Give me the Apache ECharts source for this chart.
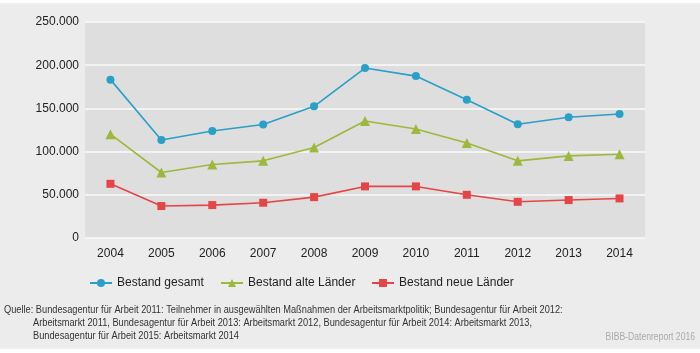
<!DOCTYPE html>
<html>
<head>
<meta charset="utf-8">
<script src="https://cdn.jsdelivr.net/npm/echarts@6/dist/echarts.min.js"></script>
<style>
  html, body { margin: 0; padding: 0; background: #fff; }
  #chart { width: 700px; height: 353px; }
</style>
</head>
<body>
<div id="chart"></div>
<script>
var jahre = ['2004','2005','2006','2007','2008','2009','2010','2011','2012','2013','2014'];
var gesamt = [183300, 113500, 123900, 131300, 152400, 196700, 187400, 160100, 131600, 139700, 143500];
var alteLaender = [120100, 75800, 85100, 89300, 104700, 135500, 126200, 110000, 89300, 95000, 97000];
var neueLaender = [62700, 37000, 38100, 40800, 47300, 59700, 59700, 50000, 41900, 43900, 45800];
var reihen = ['Bestand gesamt', 'Bestand alte Länder', 'Bestand neue Länder'];
var quelle = [
    'Quelle: Bundesagentur für Arbeit 2011: Teilnehmer in ausgewählten Maßnahmen der Arbeitsmarktpolitik; Bundesagentur für Arbeit 2012:',
    'Arbeitsmarkt 2011, Bundesagentur für Arbeit 2013: Arbeitsmarkt 2012, Bundesagentur für Arbeit 2014: Arbeitsmarkt 2013,',
    'Bundesagentur für Arbeit 2015: Arbeitsmarkt 2014'
];

var schrift = '"Liberation Sans", sans-serif';

// schmale Schrift gibt es nicht, daher Fusszeile horizontal stauchen
function fussText(txt, x, y, align, farbe, sx) {
    return {
        type: 'text', x: x, y: y, scaleX: sx,
        style: { text: txt, x: 0, y: 0, align: align, verticalAlign: 'top',
                 fontFamily: schrift, fontSize: 10.5, fill: farbe }
    };
}

function legende(name, left) {
    return {
        left: left,
        top: 272,
        itemWidth: 22,
        itemHeight: 10,
        textStyle: { fontFamily: schrift, fontSize: 12, color: '#222' },
        data: [name]
    };
}

var myChart = echarts.init(document.getElementById('chart'));
var option = {
    animation: false,
    backgroundColor: '#fff',
    textStyle: { fontFamily: schrift },
    graphic: [
        { type: 'rect', z: -10, shape: { x: 0, y: 3, width: 700, height: 346 }, style: { fill: '#ececec' } },
        fussText(quelle[0], 4, 305, 'left', '#333', 0.88),
        fussText(quelle[1], 33, 318, 'left', '#333', 0.88),
        fussText(quelle[2], 33, 331, 'left', '#333', 0.88),
        fussText('BIBB-Datenreport 2016', 695, 332, 'right', '#aaa', 0.82)
    ],
    grid: {
        show: true,
        left: 85,
        right: 55,
        top: 22,
        bottom: 115,
        backgroundColor: '#dedede',
        borderWidth: 0
    },
    legend: [
        legende(reihen[0], 84),
        legende(reihen[1], 215),
        legende(reihen[2], 366)
    ],
    xAxis: {
        type: 'category',
        data: jahre,
        boundaryGap: true,
        axisLine: { show: false },
        axisTick: { show: false },
        axisLabel: { color: '#222', fontSize: 12, fontFamily: schrift, margin: 10 }
    },
    yAxis: {
        type: 'value',
        min: 0,
        max: 250000,
        interval: 50000,
        axisLine: { show: false },
        axisTick: { show: false },
        splitLine: { lineStyle: { color: '#fafafa', width: 1.5 } },
        axisLabel: {
            color: '#222',
            fontSize: 12,
            fontFamily: schrift,
            margin: 6,
            formatter: function (v) {
                return v === 0 ? '0' : (v / 1000) + '.000';
            }
        }
    },
    series: [
        {
            name: reihen[0],
            type: 'line',
            data: gesamt,
            symbol: 'circle',
            symbolSize: 8,
            color: '#2a9fc8',
            lineStyle: { width: 1.6 }
        },
        {
            name: reihen[1],
            type: 'line',
            data: alteLaender,
            symbol: 'triangle',
            symbolSize: 10,
            color: '#9db83c',
            lineStyle: { width: 1.6 }
        },
        {
            name: reihen[2],
            type: 'line',
            data: neueLaender,
            symbol: 'rect',
            symbolSize: 8,
            color: '#e64548',
            lineStyle: { width: 1.6 }
        }
    ]
};
myChart.setOption(option);
</script>
</body>
</html>
